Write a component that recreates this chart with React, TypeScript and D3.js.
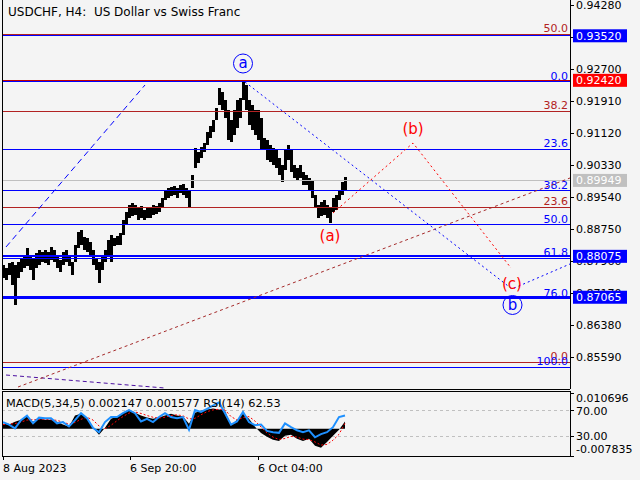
import React from 'react';
import * as d3 from 'd3';

// ---------- data ----------
const BAR_STEP = 3; // H4 bars between samples
const highs = [
  0.8786, 0.8779, 0.8791, 0.8794, 0.8786, 0.8794, 0.8803, 0.8808, 0.8828, 0.8811,
  0.8803, 0.8816, 0.8823, 0.8818, 0.8823, 0.8818, 0.8831, 0.8823, 0.8811, 0.8799,
  0.8818, 0.8823, 0.8811, 0.8794, 0.8836, 0.8868, 0.8873, 0.8855, 0.8853, 0.8843,
  0.8823, 0.8803, 0.8794, 0.8811, 0.8823, 0.8848, 0.8860, 0.8853, 0.8858, 0.8865,
  0.8897, 0.8917, 0.8934, 0.8939, 0.8934, 0.8927, 0.8932, 0.8922, 0.8927, 0.8929,
  0.8934, 0.8932, 0.8939, 0.8952, 0.8971, 0.8976, 0.8979, 0.8981, 0.8976, 0.8984,
  0.8986, 0.8976, 0.8971, 0.9008, 0.9075, 0.9065, 0.9077, 0.9087, 0.9115, 0.9129,
  0.9144, 0.9174, 0.9223, 0.9213, 0.9194, 0.9169, 0.9144, 0.9169, 0.9194, 0.9198,
  0.9238, 0.9231, 0.9194, 0.9181, 0.9169, 0.9169, 0.9149, 0.9100, 0.9095, 0.9082,
  0.9075, 0.9070, 0.9050, 0.9033, 0.9070, 0.9082, 0.9070, 0.9033, 0.9026, 0.9033,
  0.9016, 0.9008, 0.9001, 0.8996, 0.8959, 0.8934, 0.8942, 0.8947, 0.8934, 0.8927,
  0.8952, 0.8959, 0.8971, 0.8991, 0.9003,
];
const lows = [
  0.8754, 0.8749, 0.8761, 0.8737, 0.8687, 0.8754, 0.8769, 0.8779, 0.8784, 0.8774,
  0.8749, 0.8779, 0.8786, 0.8794, 0.8791, 0.8786, 0.8799, 0.8794, 0.8779, 0.8769,
  0.8786, 0.8794, 0.8784, 0.8761, 0.8794, 0.8828, 0.8836, 0.8823, 0.8818, 0.8808,
  0.8786, 0.8774, 0.8742, 0.8774, 0.8794, 0.8811, 0.8794, 0.8833, 0.8836, 0.8836,
  0.8860, 0.8885, 0.8902, 0.8907, 0.8910, 0.8897, 0.8902, 0.8897, 0.8902, 0.8902,
  0.8910, 0.8912, 0.8917, 0.8927, 0.8947, 0.8952, 0.8956, 0.8959, 0.8952, 0.8964,
  0.8959, 0.8952, 0.8929, 0.8976, 0.9026, 0.9038, 0.9050, 0.9065, 0.9082, 0.9100,
  0.9115, 0.9144, 0.9181, 0.9169, 0.9149, 0.9095, 0.9090, 0.9107, 0.9124, 0.9149,
  0.9194, 0.9169, 0.9132, 0.9119, 0.9107, 0.9095, 0.9070, 0.9070, 0.9045, 0.9040,
  0.9033, 0.9026, 0.9008, 0.8991, 0.9021, 0.9045, 0.9016, 0.9001, 0.8996, 0.9001,
  0.8984, 0.8984, 0.8971, 0.8952, 0.8927, 0.8902, 0.8907, 0.8910, 0.8902, 0.8890,
  0.8917, 0.8922, 0.8947, 0.8959, 0.8971,
];

const SUB_STEP = 6;
const macdHist = [
  0.0014, 0.0012, 0.0020, 0.0026, 0.0035, 0.0020, 0.0029, 0.0026, 0.0026, 0.0020,
  0.0012, 0.0006, 0.0038, 0.0043, 0.0032, 0.0003, -0.0017, 0.0003, 0.0029, 0.0035,
  0.0046, 0.0055, 0.0046, 0.0038, 0.0032, 0.0029, 0.0032, 0.0038, 0.0043, 0.0038,
  0.0035, 0.0014, 0.0046, 0.0052, 0.0055, 0.0058, 0.0055, 0.0052, 0.0009, 0.0026,
  0.0043, 0.0029, 0.0006, -0.0012, -0.0023, -0.0032, -0.0035, -0.0020, -0.0017, -0.0029,
  -0.0035, -0.0029, -0.0049, -0.0055, -0.0038, -0.0020, -0.0003, 0.0021,
];
const macdSignal = [
  0.0012, 0.0013, 0.0015, 0.0019, 0.0025, 0.0026, 0.0027, 0.0027, 0.0026, 0.0024,
  0.0019, 0.0013, 0.0018, 0.0027, 0.0033, 0.0025, 0.0008, 0.0000, 0.0010, 0.0023,
  0.0035, 0.0045, 0.0048, 0.0044, 0.0038, 0.0033, 0.0031, 0.0033, 0.0038, 0.0040,
  0.0037, 0.0028, 0.0030, 0.0040, 0.0049, 0.0054, 0.0056, 0.0054, 0.0035, 0.0025,
  0.0032, 0.0035, 0.0022, 0.0005, -0.0012, -0.0024, -0.0031, -0.0028, -0.0022, -0.0024,
  -0.0030, -0.0031, -0.0038, -0.0047, -0.0045, -0.0033, -0.0016, 0.0016,
];
const rsiValues = [
  52, 48, 42, 55, 62, 50, 59, 58, 58, 50,
  52, 45, 55, 66, 58, 43, 36, 52, 60, 60,
  66, 71, 66, 53, 57, 52, 60, 66, 60, 58,
  60, 40, 71, 68, 73, 78, 83, 66, 48, 53,
  68, 52, 47, 48, 38, 36, 35, 50, 44, 39,
  36, 39, 28, 33, 36, 44, 60, 62.5,
];

const priceTicks = ['0.94280', '0.93490', '0.92700', '0.91910', '0.91120', '0.90330', '0.89540', '0.88750', '0.87960', '0.87170', '0.86380', '0.85590'];
const timeLabels = ['8 Aug 2023', '6 Sep 20:00', '6 Oct 04:00'];
const timeBars = [0, 127, 255];

const blueFibLevels = [0, 23.6, 38.2, 50, 61.8, 76, 100];
const blueFibRange = [0.9238, 0.85336];
const redFibLevels = [0, 23.6, 38.2, 50];
const redFibRange = [0.85459, 1.01669];

const hLinePrices = [0.9352, 0.9242, 0.88075, 0.87065];
const hLineColors = ['#0000ff', '#c00000', '#0000ff', '#0000ff'];
const hLineBoxColors = ['#0000ff', '#ff0000', '#0000ff', '#0000ff'];
const hLineWidths = [1, 1, 2, 3];
const bidPrice = 0.89949;

const blueDashedTrend: [number, number][] = [[3, 0.88306], [142, 0.92305]];
const blueWave: [number, number][] = [[242, 0.92379], [509, 0.87269], [567, 0.87886]];
const redWave: [number, number][] = [[330, 0.89145], [410, 0.90873], [508, 0.87787]];
const brownTrend: [number, number][] = [[15, 0.84849], [567, 0.90009]];
const purpleTrend: [number, number][] = [[3, 0.85145], [162, 0.84824]];

const circleLabels = ['a', 'b'];
const circlePoints: [number, number][] = [[240, 0.92836], [509.5, 0.86874]];
const redLabels = ['(a)', '(b)', '(c)'];
const redLabelPoints: [number, number][] = [[327, 0.88577], [410, 0.91219], [509, 0.87392]];

const macdMax = 0.010696;
const macdMin = -0.007835;
const title = 'USDCHF, H4:  US Dollar vs Swiss Franc';
const subTitle = 'MACD(5,34,5) 0.002147 0.001577 RSI(14) 62.53';

// ---------- layout ----------
const L = 2, R = 570, MB = 389, ST = 391, SB = 456;
const FONT = 'DejaVu Sans';
const BG = '#f4f4f4';

export default function App() {
  const x = d3.scaleLinear().domain([0, 342]).range([3, 345]);
  const y = d3.scaleLinear().domain([0.8559, 0.9428]).range([357, 5]);
  const yM = d3.scaleLinear().domain([macdMin, macdMax]).range([456, 391.5]);
  const yR = d3.scaleLinear().domain([0, 100]).range([455, 391.7]);

  const line = d3.line<[number, number]>().x(d => x(d[0])).y(d => y(d[1]));
  const histArea = d3.area<number>()
    .x((_, i) => x(i * SUB_STEP))
    .y0(yM(0))
    .y1(d => yM(d));
  const sigLine = d3.line<number>().x((_, i) => x(i * SUB_STEP)).y(d => yM(d));
  const rsiLine = d3.line<number>().x((_, i) => x(i * SUB_STEP)).y(d => yR(d));

  const fibPrice = (range: number[], lvl: number) => range[0] + (range[1] - range[0]) * lvl / 100;

  return (
    <svg width={640} height={480} style={{ position: 'absolute', left: 0, top: 0 }} fontFamily={FONT} fontSize={11}>
      <defs>
        <clipPath id="mainClip"><rect x={L} y={0} width={R - L} height={MB} /></clipPath>
        <clipPath id="subClip"><rect x={L} y={ST} width={R - L} height={SB - ST} /></clipPath>
      </defs>
      <rect x={0} y={0} width={640} height={480} fill={BG} />
      <text x={8} y={16} fill="#000" fontSize={12} style={{ whiteSpace: 'pre' }}>{title}</text>

      <g clipPath="url(#mainClip)">
        {/* price bars */}
        {highs.map((h, i) => (
          <line key={'b' + i} x1={x(i * BAR_STEP)} x2={x(i * BAR_STEP)} y1={y(h)} y2={y(lows[i])}
            stroke="#000" strokeWidth={3} shapeRendering="crispEdges" />
        ))}
        {/* fib levels */}
        {redFibLevels.map(l => (
          <line key={'rf' + l} x1={L} x2={R} y1={y(fibPrice(redFibRange, l))} y2={y(fibPrice(redFibRange, l))}
            stroke="#b22222" strokeWidth={1} shapeRendering="crispEdges" />
        ))}
        {blueFibLevels.map(l => (
          <line key={'bf' + l} x1={L} x2={R} y1={y(fibPrice(blueFibRange, l))} y2={y(fibPrice(blueFibRange, l))}
            stroke="#0000ff" strokeWidth={1} shapeRendering="crispEdges" />
        ))}
        {/* bid line */}
        <line x1={L} x2={R} y1={y(bidPrice)} y2={y(bidPrice)} stroke="#c0c0c0" strokeWidth={1} shapeRendering="crispEdges" />
        {/* horizontal lines */}
        {hLinePrices.map((p, i) => (
          <line key={'h' + i} x1={L} x2={R} y1={y(p)} y2={y(p)} stroke={hLineColors[i]} strokeWidth={hLineWidths[i]} shapeRendering="crispEdges" />
        ))}
        {/* fib labels */}
        {redFibLevels.map(l => (
          <text key={'rft' + l} x={568} y={y(fibPrice(redFibRange, l)) - 2} textAnchor="end" fill="#b22222">{l.toFixed(1)}</text>
        ))}
        {blueFibLevels.map(l => (
          <text key={'bft' + l} x={568} y={y(fibPrice(blueFibRange, l)) - 2} textAnchor="end" fill="#0000ff">{l.toFixed(1)}</text>
        ))}
        {/* trend lines */}
        <path d={line(purpleTrend) || ''} fill="none" stroke="#4b0fa0" strokeWidth={1} strokeDasharray="4,3" />
        <path d={line(brownTrend) || ''} fill="none" stroke="#a52a2a" strokeWidth={1} strokeDasharray="3,3" />
        <path d={line(blueDashedTrend) || ''} fill="none" stroke="#0000ff" strokeWidth={1} strokeDasharray="6,4" />
        <path d={line(blueWave) || ''} fill="none" stroke="#0000ff" strokeWidth={1} strokeDasharray="2,3" />
        <path d={line(redWave) || ''} fill="none" stroke="#ff0000" strokeWidth={1} strokeDasharray="2,3" />
        {/* wave labels */}
        {circleLabels.map((t, i) => (
          <g key={'c' + t}>
            <circle cx={x(circlePoints[i][0])} cy={y(circlePoints[i][1])} r={9.5} fill="none" stroke="#0000ff" strokeWidth={1} />
            <text x={x(circlePoints[i][0])} y={y(circlePoints[i][1]) + 5} textAnchor="middle" fill="#0000ff" fontSize={15}>{t}</text>
          </g>
        ))}
        {redLabels.map((t, i) => (
          <text key={'r' + t} x={x(redLabelPoints[i][0])} y={y(redLabelPoints[i][1]) + 5} textAnchor="middle" fill="#ff0000" fontSize={15}>{t}</text>
        ))}
      </g>

      {/* main frame */}
      <line x1={L} x2={L} y1={0} y2={MB} stroke="#000" shapeRendering="crispEdges" />
      <line x1={R} x2={R} y1={0} y2={MB} stroke="#000" shapeRendering="crispEdges" />
      <line x1={L} x2={R} y1={MB} y2={MB} stroke="#000" shapeRendering="crispEdges" />

      {/* price axis */}
      {priceTicks.map(t => (
        <g key={'pt' + t}>
          <line x1={R} x2={R + 4} y1={y(+t)} y2={y(+t)} stroke="#000" shapeRendering="crispEdges" />
          <text x={576} y={y(+t) + 4} fill="#000">{t}</text>
        </g>
      ))}
      {hLinePrices.map((p, i) => (
        <g key={'hb' + i}>
          <rect x={573} y={y(p) - 6.5} width={54} height={13} fill={hLineBoxColors[i]} />
          <text x={576} y={y(p) + 4} fill="#fff">{p.toFixed(5)}</text>
        </g>
      ))}
      <rect x={573} y={y(bidPrice) - 6.5} width={54} height={13} fill="#c0c0c0" />
      <text x={576} y={y(bidPrice) + 4} fill="#fff">{bidPrice.toFixed(5)}</text>

      {/* sub window */}
      <g clipPath="url(#subClip)">
        <line x1={L} x2={R} y1={yR(70)} y2={yR(70)} stroke="#c0c0c0" strokeDasharray="3,3" shapeRendering="crispEdges" />
        <line x1={L} x2={R} y1={yR(30)} y2={yR(30)} stroke="#c0c0c0" strokeDasharray="3,3" shapeRendering="crispEdges" />
        <path d={histArea(macdHist) || ''} fill="#000" />
        <path d={sigLine(macdSignal) || ''} fill="none" stroke="#ff0000" strokeWidth={1} strokeDasharray="2,2" />
        <path d={rsiLine(rsiValues) || ''} fill="none" stroke="#1e90ff" strokeWidth={2} />
      </g>
      <text x={6} y={407} fill="#000" fontSize={11.3}>{subTitle}</text>
      <rect x={L} y={ST} width={R - L} height={SB - ST} fill="none" stroke="#000" shapeRendering="crispEdges" />
      <line x1={R} x2={R + 4} y1={393} y2={393} stroke="#000" shapeRendering="crispEdges" />
      <line x1={R} x2={R + 4} y1={yR(70)} y2={yR(70)} stroke="#000" shapeRendering="crispEdges" />
      <line x1={R} x2={R + 4} y1={yR(30)} y2={yR(30)} stroke="#000" shapeRendering="crispEdges" />
      <line x1={R} x2={R + 4} y1={SB} y2={SB} stroke="#000" shapeRendering="crispEdges" />
      <text x={576} y={402} fill="#000">{macdMax.toFixed(6)}</text>
      <text x={576} y={yR(70) + 4} fill="#000">70.00</text>
      <text x={576} y={yR(30) + 4} fill="#000">30.00</text>
      <text x={576} y={453} fill="#000">{macdMin.toFixed(6)}</text>

      {/* time axis */}
      {timeBars.map((b, i) => (
        <g key={'tb' + i}>
          <line x1={x(b)} x2={x(b)} y1={SB} y2={SB + 4} stroke="#000" shapeRendering="crispEdges" />
          <text x={x(b)} y={472} fill="#000">{timeLabels[i]}</text>
        </g>
      ))}
    </svg>
  );
}
